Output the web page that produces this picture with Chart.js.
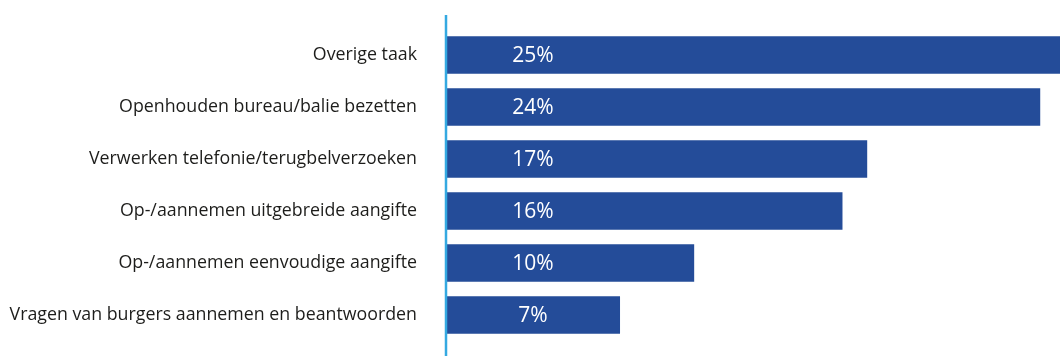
<!DOCTYPE html>
<html>
<head>
<meta charset="utf-8">
<script src="https://cdn.jsdelivr.net/npm/chart.js@4"></script>
<style>
  html, body { margin: 0; padding: 0; background: #fff; }
  #wrap { width: 1060px; height: 356px; position: relative; }
</style>
</head>
<body>
<div id="wrap"><canvas id="takenChart"></canvas></div>
<script>
const taken = [
    'Overige taak',
    'Openhouden bureau/balie bezetten',
    'Verwerken telefonie/terugbelverzoeken',
    'Op-/aannemen uitgebreide aangifte',
    'Op-/aannemen eenvoudige aangifte',
    'Vragen van burgers aannemen en beantwoorden'
];
const percentages = [25, 24, 17, 16, 10, 7];
const schaalMax = 24.8;

// verticale as-lijn links van de balken, iets langer dan het plotgebied
const asLijn = {
    id: 'asLijn',
    afterDatasetsDraw(chart) {
        const ctx = chart.ctx;
        const x = chart.scales.x.getPixelForValue(0) - 1;
        ctx.save();
        ctx.strokeStyle = '#34a9e1';
        ctx.lineWidth = 2.5;
        ctx.beginPath();
        ctx.moveTo(x, chart.chartArea.top - 14);
        ctx.lineTo(x, chart.height);
        ctx.stroke();
        ctx.restore();
    }
};

// percentages in de balken, op vaste afstand van de as
const waardeLabels = {
    id: 'waardeLabels',
    afterDatasetsDraw(chart) {
        const ctx = chart.ctx;
        const meta = chart.getDatasetMeta(0);
        const x = chart.scales.x.getPixelForValue(0) + 86;
        ctx.save();
        ctx.fillStyle = '#ffffff';
        ctx.font = '21px "Open Sans"';
        ctx.textAlign = 'center';
        ctx.textBaseline = 'middle';
        meta.data.forEach((bar, i) => {
            ctx.fillText(percentages[i] + '%', x, bar.y + 1);
        });
        ctx.restore();
    }
};

const ctx = document.getElementById('takenChart').getContext('2d');
new Chart(ctx, {
    type: 'bar',
    data: {
        labels: taken,
        datasets: [{
            data: percentages,
            backgroundColor: '#244c99',
            borderWidth: 0,
            barPercentage: 0.72,
            categoryPercentage: 1
        }]
    },
    options: {
        indexAxis: 'y',
        responsive: true,
        maintainAspectRatio: false,
        animation: false,
        layout: { padding: { top: 29, bottom: 15, left: 0, right: 0 } },
        plugins: {
            legend: { display: false },
            tooltip: { enabled: false }
        },
        scales: {
            x: {
                display: false,
                min: 0,
                max: schaalMax
            },
            y: {
                afterFit(scale) {
                    scale.width = 447;
                    scale.paddingTop = 0;
                    scale.paddingBottom = 0;
                },
                border: { display: false },
                grid: { display: false, drawTicks: false },
                ticks: {
                    color: '#1d1d1b',
                    padding: 30,
                    font: { family: '"Open Sans"', size: 17.8 }
                }
            }
        }
    },
    plugins: [asLijn, waardeLabels]
});
</script>
</body>
</html>
